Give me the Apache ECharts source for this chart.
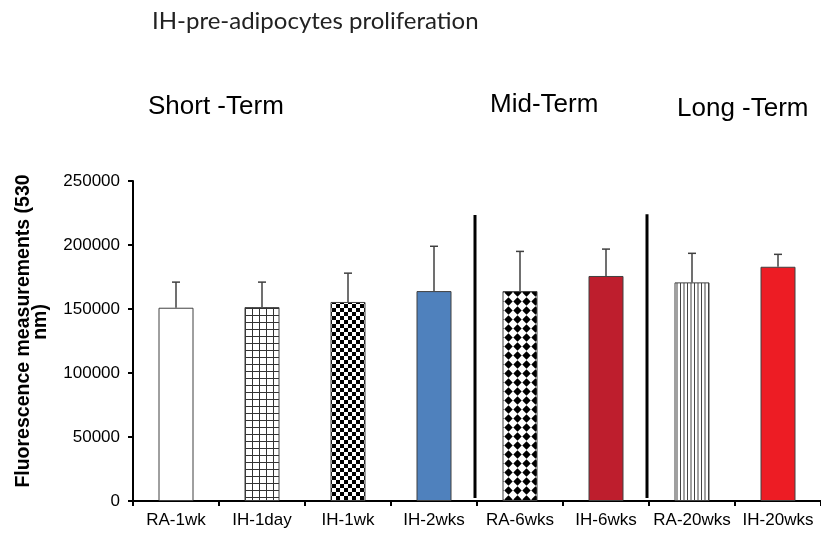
<!DOCTYPE html>
<html>
<head>
<meta charset="utf-8">
<script src="https://cdn.jsdelivr.net/npm/echarts@6/dist/echarts.min.js"></script>
<style>html,body{margin:0;padding:0;background:#fff}#c{width:821px;height:533px}</style>
</head>
<body>
<div id="c"></div>
<script>
// ---- data ----
const categories = ['RA-1wk', 'IH-1day', 'IH-1wk', 'IH-2wks', 'RA-6wks', 'IH-6wks', 'RA-20wks', 'IH-20wks'];
const means = [151000, 151500, 155500, 164000, 164000, 175800, 170800, 183000];
const errors = [20000, 19500, 22500, 35000, 31000, 21000, 22700, 9700];
const yTicks = [0, 50000, 100000, 150000, 200000, 250000];
const groupLabels = ['Short -Term', 'Mid-Term', 'Long -Term'];
const separatorAfter = [3, 5];
const separatorTop = [223500, 224000];
const chartTitle = 'IH-pre-adipocytes proliferation';
const yTitleLines = ['Fluorescence measurements (530', 'nm)'];

// ---- patterns ----
function tile(w, h, draw) {
  const c = document.createElement('canvas');
  c.width = w; c.height = h;
  const ctx = c.getContext('2d');
  ctx.fillStyle = '#fff'; ctx.fillRect(0, 0, w, h);
  draw(ctx);
  return { image: c, repeat: 'repeat' };
}
const gridPat = tile(7, 7, ctx => {
  ctx.fillStyle = '#333';
  ctx.fillRect(0, 0, 7, 1);
  ctx.fillRect(0, 0, 1, 7);
});
const checkPat = tile(8, 8, ctx => {
  ctx.fillStyle = '#000';
  ctx.fillRect(0, 0, 4, 4);
  ctx.fillRect(4, 4, 4, 4);
});
const diamondPat = tile(9, 9, ctx => {
  ctx.fillStyle = '#000';
  ctx.beginPath();
  ctx.moveTo(4.5, 0.3); ctx.lineTo(8.7, 4.5); ctx.lineTo(4.5, 8.7); ctx.lineTo(0.3, 4.5);
  ctx.closePath(); ctx.fill();
});
const stripePat = tile(7, 7, ctx => {
  ctx.fillStyle = '#444';
  ctx.fillRect(1, 0, 1, 7);
  ctx.fillRect(4.5, 0, 1, 7);
});
const fills = ['#ffffff', gridPat, checkPat, '#4f81bd', diamondPat, '#be1e2d', stripePat, '#ed1c24'];

const chart = echarts.init(document.getElementById('c'), null, { renderer: 'canvas' });
const titleFont = { fontFamily: 'Liberation Sans', fontSize: 26, fontWeight: 'normal', color: '#000' };

chart.setOption({
  animation: false,
  backgroundColor: '#fff',
  title: [
    { text: chartTitle, left: 147, top: 4, textStyle: { fontFamily: 'Lato', fontSize: 24, fontWeight: 'normal', color: '#222' } },
    { text: groupLabels[0], left: 143, top: 89, textStyle: titleFont },
    { text: groupLabels[1], left: 485, top: 87, textStyle: titleFont },
    { text: groupLabels[2], left: 672, top: 91, textStyle: titleFont }
  ],
  graphic: [
    { type: 'text', x: 24, y: 331, rotation: Math.PI / 2,
      style: { text: yTitleLines[0], font: 'bold 19.5px "Liberation Sans"', fill: '#000', textAlign: 'center', textVerticalAlign: 'middle' } },
    { type: 'text', x: 41, y: 322, rotation: Math.PI / 2,
      style: { text: yTitleLines[1], font: 'bold 19.5px "Liberation Sans"', fill: '#000', textAlign: 'center', textVerticalAlign: 'middle' } }
  ],
  grid: { left: 133, top: 181, width: 692, height: 320, containLabel: false },
  xAxis: {
    type: 'category',
    data: categories,
    boundaryGap: true,
    axisLine: { lineStyle: { color: '#000', width: 2 } },
    axisTick: { show: true, length: 5, lineStyle: { color: '#000', width: 2 } },
    axisLabel: { color: '#000', fontFamily: 'Liberation Sans', fontSize: 17, margin: 11, interval: 0 },
    splitLine: { show: false }
  },
  yAxis: {
    type: 'value',
    min: yTicks[0], max: yTicks[yTicks.length - 1], interval: yTicks[1] - yTicks[0],
    axisLine: { show: true, lineStyle: { color: '#000', width: 2 } },
    axisTick: { show: true, length: 5, lineStyle: { color: '#000', width: 2 } },
    axisLabel: { color: '#000', fontFamily: 'Liberation Sans', fontSize: 17, margin: 13, formatter: v => String(v) },
    splitLine: { show: false }
  },
  series: [
    {
      type: 'bar',
      barWidth: 35,
      data: means.map((v, i) => ({ value: v, itemStyle: { color: fills[i] } })),
      itemStyle: { borderColor: '#404040', borderWidth: 1 },
      z: 2
    },
    {
      type: 'custom',
      z: 3,
      data: means.map((v, i) => [i, v, errors[i]]),
      encode: { x: 0, y: 1 },
      renderItem: function (params, api) {
        const i = api.value(0), v = api.value(1), e = api.value(2);
        const b = api.coord([i, v]);
        const t = api.coord([i, v + e]);
        const st = { stroke: '#404040', lineWidth: 1.5 };
        return {
          type: 'group',
          children: [
            { type: 'line', shape: { x1: b[0], y1: b[1], x2: t[0], y2: t[1] }, style: st },
            { type: 'line', shape: { x1: t[0] - 4, y1: t[1], x2: t[0] + 4, y2: t[1] }, style: st }
          ]
        };
      }
    },
    {
      type: 'custom',
      z: 4,
      data: separatorAfter.map((idx, k) => [idx, separatorTop[k]]),
      encode: { x: 0, y: 1 },
      renderItem: function (params, api) {
        const i = api.value(0), top = api.value(1);
        const a = api.coord([i, 0]);
        const c = api.coord([i + 1, 0]);
        const x = (a[0] + c[0]) / 2 - 2;
        const yt = api.coord([i, top])[1];
        return { type: 'line', shape: { x1: x, y1: yt, x2: x, y2: a[1] - 3 }, style: { stroke: '#000', lineWidth: 3 } };
      }
    }
  ]
});
</script>
</body>
</html>
